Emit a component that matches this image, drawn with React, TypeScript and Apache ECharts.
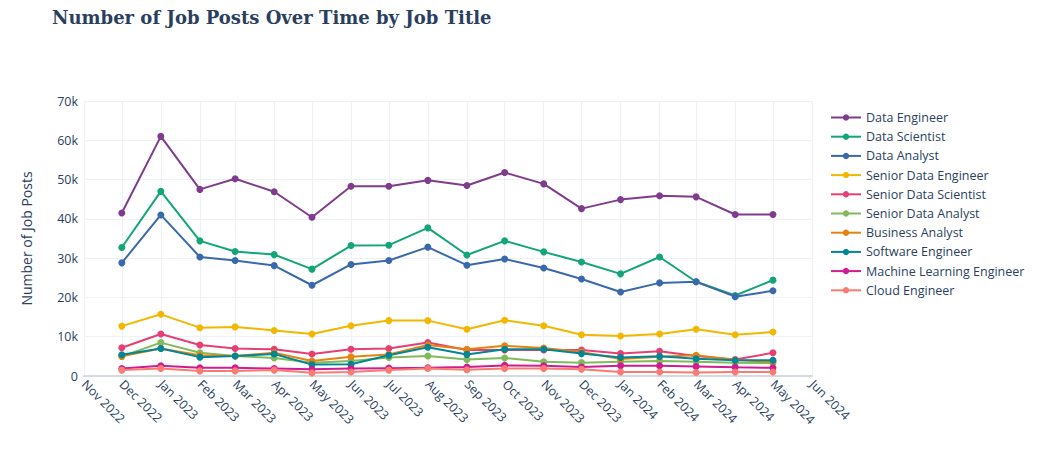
import React, { useEffect, useRef } from "react";
import * as echarts from "echarts";

const months = [
  "2022-12-01", "2023-01-01", "2023-02-01", "2023-03-01", "2023-04-01", "2023-05-01",
  "2023-06-01", "2023-07-01", "2023-08-01", "2023-09-01", "2023-10-01", "2023-11-01",
  "2023-12-01", "2024-01-01", "2024-02-01", "2024-03-01", "2024-04-01", "2024-05-01",
];

const titles = [
  "Data Engineer", "Data Scientist", "Data Analyst", "Senior Data Engineer",
  "Senior Data Scientist", "Senior Data Analyst", "Business Analyst",
  "Software Engineer", "Machine Learning Engineer", "Cloud Engineer",
];

const dataEngineer = [41500, 61000, 47500, 50200, 46900, 40400, 48300, 48300, 49800, 48500, 51800, 48900, 42600, 44900, 45900, 45600, 41100, 41100];
const dataScientist = [32700, 47000, 34400, 31700, 30900, 27200, 33200, 33300, 37700, 30800, 34400, 31600, 29000, 26000, 30300, 24000, 20500, 24400];
const dataAnalyst = [28800, 41000, 30300, 29400, 28100, 23100, 28400, 29400, 32800, 28200, 29800, 27500, 24700, 21400, 23700, 24000, 20200, 21700];
const seniorDataEngineer = [12700, 15700, 12300, 12500, 11600, 10700, 12800, 14100, 14100, 11900, 14200, 12800, 10500, 10200, 10700, 11900, 10500, 11200];
const seniorDataScientist = [7200, 10700, 7900, 7000, 6800, 5600, 6800, 7000, 8500, 6600, 6600, 6600, 6600, 5700, 6300, 5100, 4200, 5900];
const seniorDataAnalyst = [5000, 8500, 5900, 5100, 4600, 3400, 3800, 4700, 5100, 4200, 4600, 3600, 3400, 3600, 3800, 3600, 3400, 3300];
const businessAnalyst = [5000, 7000, 5300, 5100, 5900, 3800, 4900, 5500, 7900, 6800, 7700, 7100, 6100, 4300, 4900, 5300, 4100, 3600];
const softwareEngineer = [5400, 7000, 4800, 5100, 5600, 2900, 3000, 5300, 7300, 5500, 6800, 6800, 5700, 4700, 5000, 4400, 4000, 4000];
const mlEngineer = [1900, 2600, 2100, 2100, 1900, 1700, 1900, 2000, 2100, 2300, 2700, 2600, 2300, 2600, 2600, 2400, 2200, 2100];
const cloudEngineer = [1500, 1900, 1300, 1300, 1500, 800, 1000, 1500, 1900, 1600, 1900, 1900, 1700, 1000, 1000, 900, 1000, 1000];

const seriesValues = [
  dataEngineer, dataScientist, dataAnalyst, seniorDataEngineer, seniorDataScientist,
  seniorDataAnalyst, businessAnalyst, softwareEngineer, mlEngineer, cloudEngineer,
];

const colors = [
  "rgb(127, 60, 141)", "rgb(17, 165, 121)", "rgb(57, 105, 172)", "rgb(242, 183, 1)",
  "rgb(231, 63, 116)", "rgb(128, 186, 90)", "rgb(230, 131, 16)", "rgb(0, 134, 149)",
  "rgb(207, 28, 144)", "rgb(249, 123, 114)",
];

const monthNames = ["Jan", "Feb", "Mar", "Apr", "May", "Jun", "Jul", "Aug", "Sep", "Oct", "Nov", "Dec"];
const textColor = "#2a3f5f";
const font = "'Open Sans', 'Noto Sans', sans-serif";

export default function App() {
  const ref = useRef<HTMLDivElement>(null);
  useEffect(() => {
    if (!ref.current) return;
    const chart = echarts.init(ref.current, undefined, { renderer: "svg" });
    chart.setOption({
      animation: false,
      backgroundColor: "#ffffff",
      color: colors,
      title: {
        text: "Number of Job Posts Over Time by Job Title",
        left: 44,
        top: 0,
        padding: 0,
        textStyle: {
          fontFamily: "'DejaVu Serif', serif",
          fontSize: 18,
          fontWeight: "bold",
          color: textColor,
        },
      },
      legend: {
        orient: "vertical",
        left: 817,
        top: 98,
        itemWidth: 30,
        itemHeight: 8,
        itemGap: 6.2,
        textStyle: { fontFamily: font, fontSize: 12.5, color: textColor },
        data: titles,
      },
      grid: { left: 76, right: 230, top: 93, bottom: 74, containLabel: false },
      xAxis: {
        type: "time",
        min: new Date("2022-11-01T00:00:00").getTime(),
        max: new Date("2024-06-01T00:00:00").getTime(),
        minInterval: 28 * 86400000,
        maxInterval: 31 * 86400000,
        axisLine: { show: true, lineStyle: { color: "#d5d9e0", width: 2 } },
        axisTick: { show: false },
        splitLine: { show: true, lineStyle: { color: "#eef1f6", width: 1 } },
        axisLabel: {
          rotate: -45,
          showMinLabel: true,
          showMaxLabel: true,
          hideOverlap: false,
          fontFamily: font,
          fontSize: 12.5,
          color: textColor,
          margin: 6,
          formatter: (v: number) => {
            const d = new Date(v);
            return monthNames[d.getMonth()] + " " + d.getFullYear();
          },
        },
      },
      yAxis: {
        type: "value",
        min: 0,
        max: 70000,
        interval: 10000,
        name: "Number of Job Posts",
        nameLocation: "middle",
        nameGap: 51,
        nameTextStyle: { fontFamily: font, fontSize: 14, color: textColor },
        axisLine: { show: false },
        axisTick: { show: false },
        splitLine: { show: true, lineStyle: { color: "#eef1f6", width: 1 } },
        axisLabel: {
          fontFamily: font,
          fontSize: 12.5,
          color: textColor,
          margin: 6,
          formatter: (v: number) => (v === 0 ? "0" : v / 1000 + "k"),
        },
      },
      series: titles.map((name, i) => ({
        name,
        type: "line",
        data: months.map((m, j) => [new Date(m + "T00:00:00").getTime(), seriesValues[i][j]]),
        symbol: "circle",
        symbolSize: 7,
        showSymbol: true,
        lineStyle: { width: 2, color: colors[i] },
        itemStyle: { color: colors[i] },
      })),
    });
    return () => chart.dispose();
  }, []);
  return <div ref={ref} style={{ width: 1034, height: 442 }} />;
}
